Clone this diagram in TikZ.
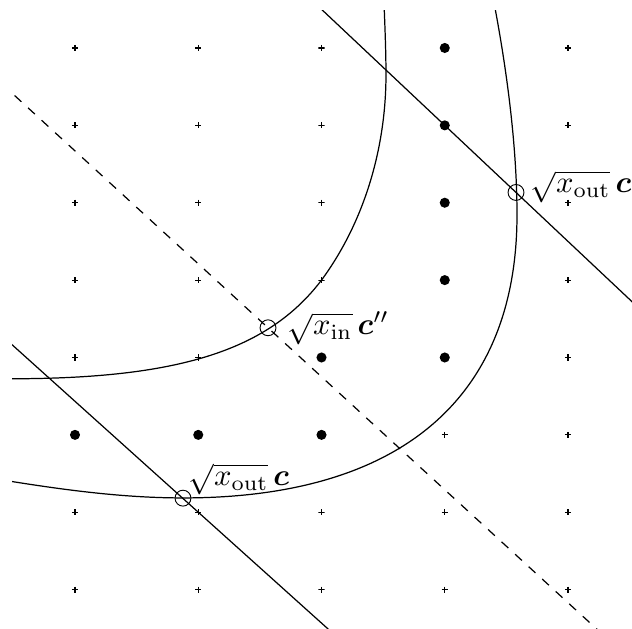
\documentclass[tikz,border=0pt]{standalone}
\usepackage{amsmath,amssymb}
\usetikzlibrary{positioning}

\begin{document}
\begin{tikzpicture}[
  x=40.3pt, y=25.3pt,
  lattice/.style={inner sep=0pt, minimum size=2pt,
    path picture={\draw[line width=0.35pt] (path picture bounding box.north) -- (path picture bounding box.south)
      (path picture bounding box.west) -- (path picture bounding box.east);}},
  member/.style={circle, fill=black, inner sep=0pt, minimum size=3.3pt},
  marker/.style={circle, draw, inner sep=0pt, minimum size=5.2pt, line width=0.3pt},
  ptlabel/.style={anchor=base west, inner sep=0pt},
  level/.style={line width=0.4pt}
]
  \useasboundingbox (-0.6085,-0.504) rectangle (4.519,7.620);

  % Lattice points
  \foreach \i in {0,...,4}
    \foreach \j in {0,...,7}
      \node[lattice] (l\i\j) at (\i,\j) {};

  % Points between the two curves
  \foreach \i/\j in {3/3,3/4,3/5,3/6,3/7,2/3,0/2,1/2,2/2}
    \node[member] (d\i\j) at (\i,\j) {};

  % Free ends of the lines
  \coordinate (top1) at (1.933,7.6);
  \coordinate (end1) at (4.6,3.6);
  \coordinate (top2) at (-0.6,3.293);
  \coordinate (end2) at (2.117,-0.6);
  \coordinate (topd) at (-0.6,6.546);
  \coordinate (endd) at (4.295,-0.6);

  \begin{scope}
    \clip (-0.51,-0.5) rectangle (4.6,7.49);
    % Level curves
    \draw[level] (-0.527,2.725) .. controls (0.811,2.725) and (1.559,3.072) .. (2,4)
      .. controls (2.36,4.78) and (2.523,5.747) .. (2.523,6.651)
      .. controls (2.523,6.948) and (2.515,7.258) .. (2.507,7.581);
    \draw[level] (-0.527,1.401) .. controls (-0.0487,1.279) and (0.414,1.185) .. (0.876,1.185)
      .. controls (2.637,1.185) and (3.586,2.467) .. (3.586,4.843)
      .. controls (3.586,5.721) and (3.505,6.703) .. (3.4,7.581);
    % Lines
    \draw (top1) -- (end1);
    \draw (top2) -- (end2);
    \draw[dashed] (topd) -- (endd);
  \end{scope}

  % Marked points
  \node[marker] (c) at (0.876,1.182) {};
  \node[marker] (cp) at (3.578,5.133) {};
  \node[marker] (cpp) at (1.566,3.384) {};

  \node[ptlabel] (lc) at (0.917,1.343) {$\sqrt{x_{\mathrm{out}}}\,\boldsymbol{c}$};
  \node[ptlabel] (lcp) at (3.692,5.127) {$\sqrt{x_{\mathrm{out}}}\,\boldsymbol{c}'$};
  \node[ptlabel] (lcpp) at (1.72,3.293) {$\sqrt{x_{\mathrm{in}}}\,\boldsymbol{c}''$};
\end{tikzpicture}
\end{document}
